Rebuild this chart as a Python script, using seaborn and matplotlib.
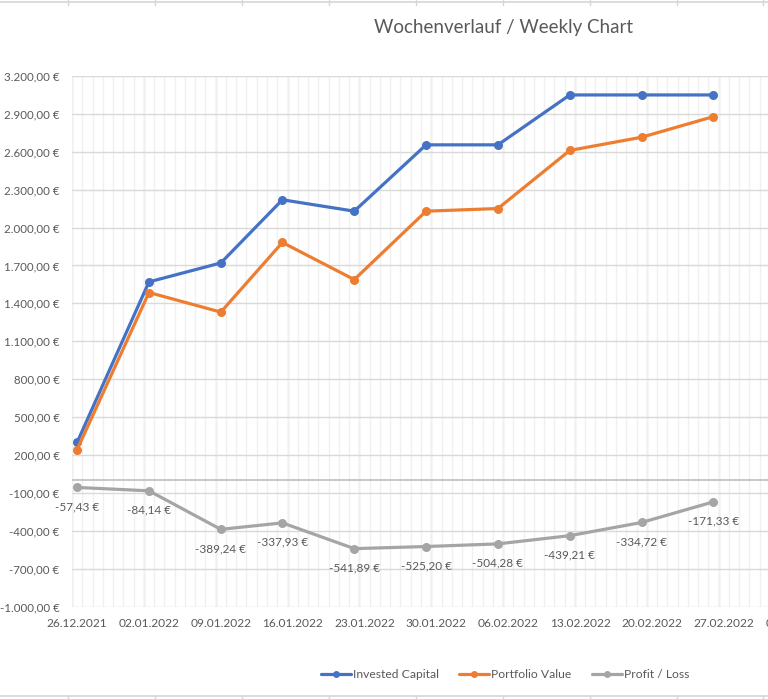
import pandas as pd
import numpy as np
import matplotlib
matplotlib.use('Agg')
import matplotlib.pyplot as plt
import matplotlib.dates as mdates
from matplotlib.ticker import FixedLocator, FuncFormatter, MultipleLocator
from matplotlib.lines import Line2D
import seaborn as sns

# --- DATA ---
dates = ['2021-12-26', '2022-01-02', '2022-01-09', '2022-01-15', '2022-01-22',
         '2022-01-29', '2022-02-05', '2022-02-12', '2022-02-19', '2022-02-26']
invested_capital = [300.00, 1570.00, 1720.00, 2220.00, 2130.00,
                    2655.00, 2655.00, 3050.00, 3050.00, 3050.00]
portfolio_value = [242.57, 1485.86, 1330.76, 1882.07, 1588.11,
                   2129.80, 2150.72, 2610.79, 2715.28, 2878.67]
profit_loss = [-57.43, -84.14, -389.24, -337.93, -541.89,
               -525.20, -504.28, -439.21, -334.72, -171.33]
tick_dates = ['2021-12-26', '2022-01-02', '2022-01-09', '2022-01-16', '2022-01-23',
              '2022-01-30', '2022-02-06', '2022-02-13', '2022-02-20', '2022-02-27',
              '2022-03-06']
series_names = ['Invested Capital', 'Portfolio Value', 'Profit / Loss']
colors = ['#4472C4', '#ED7D31', '#A5A5A5']

df = pd.DataFrame({'Datum': pd.to_datetime(dates),
                   'Invested Capital': invested_capital,
                   'Portfolio Value': portfolio_value,
                   'Profit / Loss': profit_loss})
long_df = df.melt(id_vars='Datum', var_name='Reihe', value_name='Wert')


def euro(v, pos=None):
    s = f'{v:,.2f}'.replace(',', 'X').replace('.', ',').replace('X', '.')
    return s + ' €'


# --- STYLE ---
sns.set_theme(style='white')
plt.rcParams['font.family'] = ['Lato', 'DejaVu Sans']
text_grey = '#595959'

fig = plt.figure(figsize=(7.68, 6.99), dpi=100)
W, H = 768, 699
ax = fig.add_axes([72 / W, 1 - 606.5 / H, (811 - 72) / W, (606.5 - 76) / H])

sns.lineplot(data=long_df, x='Datum', y='Wert', hue='Reihe', hue_order=series_names,
             palette=colors, marker='o', markersize=6.5, markeredgewidth=0,
             linewidth=2.3, legend=False, ax=ax, zorder=3)

# data labels for profit / loss
for d, v in zip(df['Datum'], profit_loss):
    ax.annotate(euro(v), (d, v), xytext=(0, -14), textcoords='offset points',
                ha='center', va='center', fontsize=8.5, color=text_grey)

# axes
tick_nums = mdates.date2num(pd.to_datetime(tick_dates))
ax.set_xlim(tick_nums[0] - 0.5, tick_nums[0] - 0.5 + 72)
ax.set_ylim(-1000, 3200)
ax.yaxis.set_major_locator(MultipleLocator(300, offset=-1000))
ax.yaxis.set_major_formatter(FuncFormatter(euro))
ax.xaxis.set_major_locator(FixedLocator(tick_nums))
ax.xaxis.set_major_formatter(mdates.DateFormatter('%d.%m.%Y'))
ax.xaxis.set_minor_locator(MultipleLocator(1, offset=0.5))

ax.grid(axis='y', which='major', color='#d9d9d9', linewidth=1.0, zorder=0)
ax.grid(axis='x', which='minor', color='#f0f0f0', linewidth=1.0, zorder=0)
for t in tick_nums:
    ax.axvline(t - 0.5, color='#d9d9d9', linewidth=1.0, zorder=0.5)
ax.axhline(0, color='#bfbfbf', linewidth=1.2, zorder=1)

for s in ax.spines.values():
    s.set_visible(False)
ax.tick_params(axis='both', length=0, labelsize=8.6, colors=text_grey)
ax.tick_params(axis='y', pad=9, labelsize=8.3)
ax.tick_params(axis='x', pad=8)
ax.set_xlabel('')
ax.set_ylabel('')

# title
fig.text(504 / W, 1 - 28 / H, 'Wochenverlauf / Weekly Chart', ha='center', va='center',
         fontsize=13.5, color=text_grey)

# legend
handles = [Line2D([0], [0], color=c, lw=2.3, marker='o', markersize=5, markeredgewidth=0)
           for c in colors]
fig.legend(handles, series_names, loc='center', bbox_to_anchor=(505 / W, 1 - 675 / H),
           ncol=3, frameon=False, fontsize=8.7, handlelength=2.5, handletextpad=0.15,
           columnspacing=1.7, labelcolor=text_grey)

# spreadsheet cell borders around the chart
border = '#d6d6d6'
fig.add_artist(Line2D([0, 1], [1 - 2 / H, 1 - 2 / H], color=border, lw=1.2))
fig.add_artist(Line2D([0, 1], [1 - 696 / H, 1 - 696 / H], color=border, lw=1.2))
for cx in [68, 155, 242, 329, 416, 503, 590, 677, 763]:
    fig.add_artist(Line2D([cx / W, cx / W], [1, 1 - 5 / H], color=border, lw=1))
    fig.add_artist(Line2D([cx / W, cx / W], [1 - 696 / H, 0], color=border, lw=1))

fig.savefig('out.png', dpi=100)
